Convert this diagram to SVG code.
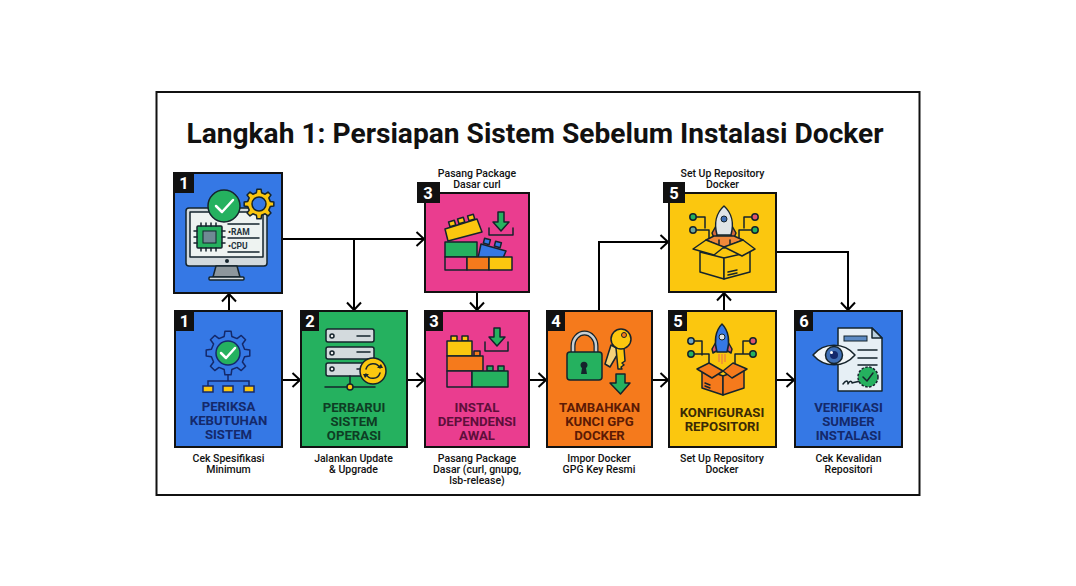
<svg xmlns="http://www.w3.org/2000/svg" width="1076" height="586" viewBox="0 0 1076 586">
<style>
text{font-family:Roboto,"Liberation Sans",sans-serif}
.card{stroke:#111;stroke-width:2}
.blue{fill:#3578e5}.green{fill:#25b15f}.pink{fill:#ea3d8f}.orange{fill:#f57a1c}.yellow{fill:#fbc70f}.lgray{fill:#d3dadd}.wht{fill:#eef3f1}
.num{fill:#fff;font-size:16.500px;font-weight:700;text-anchor:middle}
.lab{font-size:13.200px;font-weight:700;text-anchor:middle}
.sub{font-size:10.500px;font-weight:500;text-anchor:middle;fill:#111}
.ln{fill:none;stroke:#15242c;stroke-width:1.5;stroke-linejoin:round;stroke-linecap:round}
.ol{stroke:#15242c;stroke-width:1.5;stroke-linejoin:round}
.con{fill:none;stroke:#000;stroke-width:2;stroke-linejoin:miter}
.chk{fill:none;stroke:#fff;stroke-width:2.5;stroke-linecap:round;stroke-linejoin:round}
</style>
<defs>
<marker id="ah" markerUnits="userSpaceOnUse" markerWidth="12" markerHeight="18" refX="9.5" refY="9" orient="auto">
<path d="M2 2L9.5 9L2 16" fill="none" stroke="#000" stroke-width="2"/>
</marker>
<polygon id="gear" stroke-linejoin="round" points="16.56,-3.82 21.79,-3.06 21.79,3.06 16.56,3.82 14.41,9.01 17.57,13.24 13.24,17.57 9.01,14.41 3.82,16.56 3.06,21.79 -3.06,21.79 -3.82,16.56 -9.01,14.41 -13.24,17.57 -17.57,13.24 -14.41,9.01 -16.56,3.82 -21.79,3.06 -21.79,-3.06 -16.56,-3.82 -14.41,-9.01 -17.57,-13.24 -13.24,-17.57 -9.01,-14.41 -3.82,-16.56 -3.06,-21.79 3.06,-21.79 3.82,-16.56 9.01,-14.41 13.24,-17.57 17.57,-13.24 14.41,-9.01"/>
</defs>
<rect width="1076" height="586" fill="#fff"/>
<rect x="156.500" y="92" width="763" height="403" fill="#fff" stroke="#111" stroke-width="2"/>
<text id="title" x="535" y="143" text-anchor="middle" font-size="28.150" font-weight="700" fill="#111">Langkah 1: Persiapan Sistem Sebelum Instalasi Docker</text>

<g id="connectors">
<path class="con" marker-end="url(#ah)" d="M229 311V294"/>
<path class="con" marker-end="url(#ah)" d="M282 239H424"/>
<path class="con" marker-end="url(#ah)" d="M354 239V310"/>
<path class="con" marker-end="url(#ah)" d="M477 292V310"/>
<path class="con" marker-end="url(#ah)" d="M282 380H300"/>
<path class="con" marker-end="url(#ah)" d="M407 380H424"/>
<path class="con" marker-end="url(#ah)" d="M529 380H546"/>
<path class="con" marker-end="url(#ah)" d="M652 380H668"/>
<path class="con" marker-end="url(#ah)" d="M776 380H794"/>
<path class="con" marker-end="url(#ah)" d="M599 311V242H668"/>
<path class="con" marker-end="url(#ah)" d="M724 311V293"/>
<path class="con" marker-end="url(#ah)" d="M776 252H848V310"/>
</g>

<g id="node-1-top">
<rect class="card blue" x="174" y="173" width="108" height="120"/>
<rect x="174" y="173" width="20" height="20" fill="#111"/><text class="num" x="184" y="189">1</text>
<rect class="lgray ol" x="186" y="208" width="81" height="58" rx="3"/>
<rect class="wht ol" x="190" y="212" width="73" height="45"/>
<circle cx="227" cy="261" r="2" fill="#15242c"/>
<path class="ol" fill="#8d979c" d="M216 266H237L240 277H213Z"/>
<rect class="lgray ol" x="209" y="277" width="35" height="3" rx="1"/>
<rect x="197" y="226" width="25" height="22" class="green ol" rx="1"/>
<rect x="203" y="231" width="13" height="12" fill="#6f8a94" stroke="#15242c"/>
<path class="ln" d="M201 223v3M206 223v3M211 223v3M216 223v3M201 248v3M206 248v3M211 248v3M216 248v3M194 231h3M194 237h3M194 243h3M222 231h3M222 237h3M222 243h3"/>
<path class="ln" d="M228 224H259M228 238H259M228 252H259"/>
<text x="228" y="235" font-size="8.500" font-weight="700" fill="#26343c">•RAM</text>
<text x="228" y="249" font-size="8.500" font-weight="700" fill="#26343c">•CPU</text>
<circle cx="224" cy="206" r="16" class="green ol"/>
<path class="chk" d="M216 206L222 212L233 200"/>
<use href="#gear" transform="translate(259 204) scale(.68)" fill="#fbc70f" stroke="#15242c" stroke-width="2.200"/>
<circle cx="259" cy="204" r="7" fill="#3578e5" stroke="#15242c" stroke-width="1.500"/>
</g>

<g id="node-3-top">
<rect class="card pink" x="425" y="193" width="104" height="99"/>
<rect x="417" y="182" width="23" height="21" fill="#111"/><text class="num" x="428" y="198.500">3</text>
<text class="sub" x="477" y="177">Pasang Package</text><text class="sub" x="477" y="188">Dasar curl</text>
<g class="ol yellow"><rect x="449" y="221" width="6" height="5" transform="rotate(-17 452 223)"/><rect x="458" y="218" width="6" height="5" transform="rotate(-17 461 220)"/><rect x="468" y="215" width="6" height="5" transform="rotate(-17 471 217)"/></g>
<path class="ol yellow" d="M445 229L477 219L482 232L448 241Z"/>
<path class="ol green" d="M445 242H477V257H445Z"/>
<path class="ol blue" d="M481 244L506 251L503 258H478Z"/>
<rect x="484" y="239" width="6" height="5" class="ol blue" transform="rotate(15 487 241)"/>
<rect x="495" y="242" width="6" height="5" class="ol blue" transform="rotate(15 498 244)"/>
<rect class="ol pink" x="445" y="257" width="22" height="13"/>
<rect class="ol orange" x="467" y="257" width="22" height="13"/>
<rect class="ol yellow" x="489" y="257" width="23" height="13"/>
<path class="ln" d="M489 228V235H513V228"/>
<path class="ol green" d="M498 212H504V222H509L501 231L493 222H498Z"/>
</g>

<g id="node-1">
<rect class="card blue" x="175" y="311" width="107" height="136"/>
<rect x="175" y="311" width="19" height="20" fill="#111"/><text class="num" x="184.500" y="327">1</text>
<use href="#gear" transform="translate(228 353)" fill="#3578e5" stroke="#14296b" stroke-width="1.500"/>
<circle cx="228" cy="353" r="12" class="green" stroke="#14296b" stroke-width="1.500"/>
<path class="chk" d="M221 353L226 358L235 348" stroke-width="2"/>
<path fill="none" stroke="#14296b" stroke-width="1.500" d="M228 375V381M208 386V381H249V386"/>
<g class="yellow" stroke="#14296b" stroke-width="1.500"><rect x="203" y="386" width="10" height="6"/><rect x="223" y="386" width="10" height="6"/><rect x="244" y="386" width="10" height="6"/></g>
<text class="lab" fill="#14296b" x="228.500" y="411">PERIKSA</text>
<text class="lab" fill="#14296b" x="228.500" y="425">KEBUTUHAN</text>
<text class="lab" fill="#14296b" x="228.500" y="439">SISTEM</text>
<text class="sub" x="228.500" y="462">Cek Spesifikasi</text><text class="sub" x="228.500" y="473">Minimum</text>
</g>

<g id="node-2">
<rect class="card green" x="301" y="311" width="106" height="136"/>
<rect x="301" y="311" width="18" height="20" fill="#111"/><text class="num" x="310" y="327">2</text>
<rect class="lgray ol" x="326" y="329" width="48" height="13" rx="2"/>
<rect class="lgray ol" x="326" y="347" width="48" height="12" rx="2"/>
<rect class="lgray ol" x="326" y="363" width="48" height="13" rx="2"/>
<g fill="#eee" stroke="#15242c" stroke-width="1.500"><circle cx="332" cy="336" r="2"/><circle cx="332" cy="353" r="2"/><circle cx="332" cy="369" r="2"/></g>
<path class="ln" d="M357 336H370M357 352H370M357 369H370M350 376V387M325 387H375"/>
<circle cx="350" cy="387" r="3" class="yellow ol"/>
<circle cx="373" cy="371" r="13" class="yellow ol"/>
<path class="ln" stroke-width="2" d="M366 369A7.500 7.500 0 0 1 380 368M380 373A7.500 7.500 0 0 1 366 374"/>
<path fill="#15242c" d="M377 368H383L381 364ZM369 374H363L365 378Z"/>
<text class="lab" fill="#0e3d24" x="354" y="412">PERBARUI</text>
<text class="lab" fill="#0e3d24" x="354" y="426">SISTEM</text>
<text class="lab" fill="#0e3d24" x="354" y="440">OPERASI</text>
<text class="sub" x="353.500" y="462">Jalankan Update</text><text class="sub" x="353.500" y="473">&amp; Upgrade</text>
</g>

<g id="node-3">
<rect class="card pink" x="425" y="311" width="104" height="136"/>
<rect x="425" y="311" width="18" height="20" fill="#111"/><text class="num" x="434" y="327">3</text>
<g class="ol yellow"><rect x="451" y="336" width="6" height="5"/><rect x="462" y="336" width="6" height="5"/></g>
<g class="ol orange"><rect x="463" y="351" width="6" height="5"/><rect x="474" y="351" width="6" height="5"/></g>
<g class="ol green"><rect x="487" y="366" width="6" height="5"/><rect x="498" y="366" width="6" height="5"/></g>
<rect class="ol yellow" x="447" y="341" width="25" height="15"/>
<rect class="ol orange" x="447" y="356" width="36" height="15"/>
<rect class="ol pink" x="447" y="371" width="25" height="16"/>
<rect class="ol green" x="472" y="371" width="36" height="16"/>
<path class="ln" d="M485 342V351H508V342"/>
<path class="ol green" d="M494 328H500V337H505L497 346L489 337H494Z"/>
<text class="lab" fill="#5e0f3b" x="477" y="412">INSTAL</text>
<text class="lab" fill="#5e0f3b" x="477" y="426">DEPENDENSI</text>
<text class="lab" fill="#5e0f3b" x="477" y="440">AWAL</text>
<text class="sub" x="477" y="462">Pasang Package</text><text class="sub" x="477" y="473">Dasar (curl, gnupg,</text><text class="sub" x="477" y="484">lsb-release)</text>
</g>

<g id="node-4">
<rect class="card orange" x="547" y="311" width="105" height="136"/>
<rect x="547" y="311" width="18" height="20" fill="#111"/><text class="num" x="556" y="327">4</text>
<path d="M573 353V346A11.500 13 0 0 1 596 346V353" fill="none" stroke="#15242c" stroke-width="5"/>
<path d="M573 353V346A11.500 13 0 0 1 596 346V353" fill="none" stroke="#c9cfd2" stroke-width="2.500"/>
<rect class="ol green" x="567" y="352" width="35" height="28" rx="3"/>
<path fill="#15242c" d="M582 368L581 374H587L586 368A3.500 3.500 0 1 0 582 368Z"/>
<path class="ol" fill="#f3d27a" d="M611 345L605 364L610 367L620 350Z"/>
<path class="ol yellow" d="M616 348L618 369H622L621 367L624 365L622 363L625 361L624 348Z"/>
<circle cx="621" cy="339" r="10" class="yellow ol"/>
<circle cx="624" cy="335" r="2.500" fill="#f57a1c" stroke="#15242c"/>
<path class="ol green" d="M616 374H625V383H630L620.500 394L610 383H616Z"/>
<text class="lab" fill="#5c1a05" x="599.500" y="412">TAMBAHKAN</text>
<text class="lab" fill="#5c1a05" x="599.500" y="426">KUNCI GPG</text>
<text class="lab" fill="#5c1a05" x="599.500" y="440">DOCKER</text>
<text class="sub" x="599" y="462">Impor Docker</text><text class="sub" x="599" y="473">GPG Key Resmi</text>
</g>

<g id="node-5-top">
<rect class="card yellow" x="669" y="193" width="107" height="99"/>
<rect x="663" y="182" width="22" height="21" fill="#111"/><text class="num" x="674" y="198.500">5</text>
<text class="sub" x="722.500" y="177">Set Up Repository</text><text class="sub" x="722.500" y="188">Docker</text>
<path class="ln" d="M693 217H705V228M693 230H709V239M755 217H744V228M755 230H739V239"/>
<circle cx="693" cy="217" r="3.200" class="green ol"/><circle cx="693" cy="230" r="3.200" fill="#6fa89a" class="ol"/>
<circle cx="755" cy="217" r="3.200" fill="#e0556a" class="ol"/><circle cx="755" cy="230" r="3.200" class="green ol"/>
<path class="ol" fill="#d86a3c" d="M716 226L712 233L714 238L719 234ZM732 226L736 233L734 238L729 234Z"/>
<path class="ol" fill="#dfe4e6" d="M724 206C732 213 734 224 731 235H717C714 224 716 213 724 206Z"/>
<circle cx="724" cy="219" r="3" fill="#3f6fb5" stroke="#15242c"/>
<path class="ol" fill="#f0893a" d="M706 240L714 236H734L743 240L724 248Z"/>
<path class="ln" d="M719 240v4M730 240v4"/>
<path class="ol yellow" d="M700 252L724 258V279L700 272Z"/>
<path class="ol yellow" d="M724 258L750 252V272L724 279Z"/>
<path class="ol yellow" d="M693 249L706 240L724 247L714 255Z"/>
<path class="ol yellow" d="M724 247L743 240L755 249L742 256Z"/>
<path class="ln" d="M728 272L737 270M728 275L737 273"/>
</g>

<g id="node-5">
<rect class="card yellow" x="669" y="311" width="107" height="136"/>
<rect x="669" y="311" width="18" height="20" fill="#111"/><text class="num" x="678" y="327">5</text>
<path class="ln" d="M691 341H702V355M691 354H709V364M753 341H743V354M753 354H735V364"/>
<circle cx="691" cy="341" r="3.200" fill="#6fa8c8" class="ol"/><circle cx="691" cy="354" r="3.200" class="green ol"/>
<circle cx="753" cy="341" r="3.200" fill="#e0556a" class="ol"/><circle cx="753" cy="354" r="3.200" class="green ol"/>
<path class="ol" fill="#e0556a" d="M716 342L712 349L713 353L718 350ZM728 342L732 349L731 353L726 350Z"/>
<path class="ol blue" d="M722 324C729 331 730 342 727 352H717C714 342 715 331 722 324Z"/>
<circle cx="722" cy="337" r="3" fill="#dfe4e6" stroke="#15242c"/>
<path fill="none" stroke="#f0893a" stroke-width="1.500" d="M719 354v8M722 354v10M725 354v8"/>
<path class="ol orange" d="M702 368L723 376V395L702 388Z"/>
<path class="ol orange" d="M723 376L744 368V388L723 395Z"/>
<path class="ol orange" d="M697 369L709 363L723 371L712 378Z"/>
<path class="ol orange" d="M723 371L733 363L747 369L732 378Z"/>
<path class="ln" d="M705 383L710 385M705 386L710 388"/>
<text class="lab" fill="#3a2a05" x="722" y="417">KONFIGURASI</text>
<text class="lab" fill="#3a2a05" x="722" y="431">REPOSITORI</text>
<text class="sub" x="722" y="462">Set Up Repository</text><text class="sub" x="722" y="473">Docker</text>
</g>

<g id="node-6">
<rect class="card blue" x="795" y="311" width="107" height="136"/>
<rect x="795" y="311" width="18" height="20" fill="#111"/><text class="num" x="804" y="327">6</text>
<path class="ol" fill="#e6eff5" d="M838 328H872L882 338V391H838Z"/>
<path class="ol" fill="#bcd0de" d="M872 328V338H882Z"/>
<rect x="844" y="336" width="23" height="5" fill="#5b8ac4" stroke="#15242c" stroke-width="1"/>
<path class="ln" d="M858 350H877M858 358H877M858 365H877"/>
<path class="ol" fill="#f2f6f8" d="M813 355C824 342 844 342 855 355C844 368 824 368 813 355Z"/>
<circle cx="834" cy="355" r="8.500" fill="#3f6fb5" class="ol"/>
<circle cx="834" cy="355" r="4" fill="#14296b"/>
<circle cx="831.500" cy="352.500" r="1.500" fill="#fff"/>
<path class="ln" d="M843 384C846 380 848 380 848 384C850 380 852 381 852 383C855 382 857 382 860 381"/>
<circle cx="868" cy="377" r="10" class="green" stroke="#15242c" stroke-width="1.500" stroke-dasharray="2.500 1.500"/>
<path class="ln" d="M863 377L867 381L873 373"/>
<text class="lab" fill="#14296b" x="848.500" y="412">VERIFIKASI</text>
<text class="lab" fill="#14296b" x="848.500" y="426">SUMBER</text>
<text class="lab" fill="#14296b" x="848.500" y="440">INSTALASI</text>
<text class="sub" x="848.500" y="462">Cek Kevalidan</text><text class="sub" x="848.500" y="473">Repositori</text>
</g>
</svg>
